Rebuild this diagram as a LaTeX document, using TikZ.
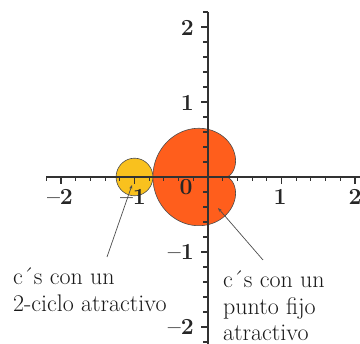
\documentclass[tikz,border=0pt]{standalone}
\usepackage{fontspec}
\usetikzlibrary{arrows.meta}
\definecolor{cardio}{RGB}{255,94,28}
\definecolor{bulb}{RGB}{249,193,30}
\definecolor{axisc}{RGB}{50,50,50}
\tikzset{
  axisline/.style={line width=1.4pt, draw=axisc},
  tickline/.style={line width=1.1pt, draw=axisc},
  ticklabel/.style={font=\fontsize{23}{23}\selectfont\bfseries, inner sep=0pt, text=black!85},
  caption/.style={font=\fontsize{24}{27}\selectfont, inner sep=0pt, anchor=base west, text=black!90},
  leader/.style={draw=black!70, line width=0.7pt, -{Stealth[length=4pt,width=3pt]}},
  region/.style={draw=black!70, line width=0.6pt},
}
\begin{document}
\begin{tikzpicture}[x=1pt,y=1pt]
\useasboundingbox (0,0) rectangle (360,344);
\clip (0,0) rectangle (360,344);
\begin{scope}[shift={(208,167)},x=73.5pt,y=75pt]
  % main cardioid
  \filldraw[region, fill=cardio] plot[domain=0:360, samples=240]
    ({cos(\x)/2-cos(2*\x)/4},{sin(\x)/2-sin(2*\x)/4}) -- cycle;
  % period-2 bulb
  \filldraw[region, fill=bulb] plot[domain=0:360, samples=90]
    ({-1+0.25*cos(\x)},{0.25*sin(\x)}) -- cycle;
  % axes
  \draw[axisline] (-2.2,0) -- (2.3,0);
  \draw[axisline] (0,-2.35) -- (0,2.2);
  \foreach \k in {-11,...,-1,1,2,...,11}{
    \draw[tickline] (\k*0.2,0) -- ++(0,-4.5pt);
    \draw[tickline] (0,\k*0.2) -- ++(-4.5pt,0);
  }
  \foreach \k in {-2,-1,1,2}{
    \draw[tickline] (\k,0) -- ++(0,-7pt);
    \draw[tickline] (0,\k) -- ++(-7pt,0);
  }
\end{scope}
% tick labels
\node[ticklabel] (xm2) at (60,147) {\textendash2};
\node[ticklabel] (xm1) at (133,147) {\textendash1};
\node[ticklabel] (x0) at (186,157) {0};
\node[ticklabel] (x1) at (280,147) {1};
\node[ticklabel] (x2) at (355,147) {2};
\node[ticklabel, anchor=east] (y2) at (194,316) {2};
\node[ticklabel, anchor=east] (y1) at (194,241) {1};
\node[ticklabel, anchor=east] (ym1) at (194,92) {\textendash1};
\node[ticklabel, anchor=east] (ym2) at (194,17) {\textendash2};
% captions
\node[caption] (la) at (13,59) {c´s con un};
\node[caption] (lb) at (13,32) {2-ciclo atractivo};
\node[caption] (ra) at (223,56) {c´s con un};
\node[caption] (rb) at (223,29) {punto fijo};
\node[caption] (rc) at (223,3) {atractivo};
% leader lines
\coordinate (lstart) at (107,87);
\coordinate (ltip) at (132,159);
\coordinate (rstart) at (263,84);
\coordinate (rtip) at (218,136);
\draw[leader] (lstart) -- (ltip);
\draw[leader] (rstart) -- (rtip);
\end{tikzpicture}
\end{document}
